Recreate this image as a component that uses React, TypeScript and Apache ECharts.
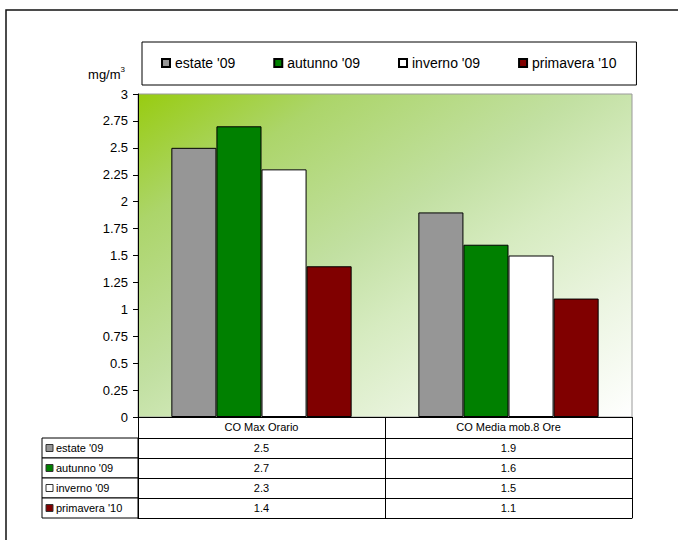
import React, { useEffect, useRef } from "react";
import * as echarts from "echarts";

// CO concentrations (mg/m³) per season
const categories = ["CO Max Orario", "CO Media mob.8 Ore"];
const seriesNames = ["estate '09", "autunno '09", "inverno '09", "primavera '10"];
const estate09 = [2.5, 1.9];
const autunno09 = [2.7, 1.6];
const inverno09 = [2.3, 1.5];
const primavera10 = [1.4, 1.1];
const seriesValues = [estate09, autunno09, inverno09, primavera10];

const seriesColors = ["#969696", "#008000", "#ffffff", "#800000"];

// layout
const FONT = "'Liberation Sans', Arial, sans-serif";
const GRID_LEFT = 138;
const GRID_TOP = 94;
const GRID_W = 494;
const GRID_H = 323;
const HEADER_H = 21;
const ROW_H = 20;
const TABLE_H = HEADER_H + ROW_H * seriesNames.length;
const TABLE_LEFT = 42;

export default function App() {
  const ref = useRef<HTMLDivElement>(null);

  useEffect(() => {
    if (!ref.current) return;
    const chart = echarts.init(ref.current, null, { renderer: "svg" });

    const rowAxes = [0, 1, 2, 3, 4].map((i) => ({
      type: "category",
      data: categories,
      gridIndex: 0,
      position: "bottom",
      offset: HEADER_H + i * ROW_H,
      axisLine: { show: true, lineStyle: { color: "#000", width: 1 } },
      axisTick: { show: false },
      splitLine: { show: false },
      axisLabel:
        i < seriesValues.length
          ? {
              show: true,
              margin: 4,
              fontSize: 11,
              fontFamily: FONT,
              color: "#000",
              formatter: (_v: string, idx: number) => String(seriesValues[i][idx]),
            }
          : { show: false },
    }));

    // legend-key column on the left of the data table
    const keyCells: any[] = [];
    seriesNames.forEach((name, i) => {
      const y = GRID_TOP + GRID_H + HEADER_H + i * ROW_H;
      keyCells.push({
        type: "rect",
        shape: { x: TABLE_LEFT, y, width: GRID_LEFT - TABLE_LEFT, height: ROW_H },
        style: { fill: "#fff", stroke: "#000", lineWidth: 1 },
        z: 10,
      });
      keyCells.push({
        type: "rect",
        shape: { x: TABLE_LEFT + 4, y: y + 6.5, width: 7, height: 7 },
        style: { fill: seriesColors[i], stroke: "#333", lineWidth: 1 },
        z: 11,
      });
      keyCells.push({
        type: "text",
        x: TABLE_LEFT + 14,
        y: y + ROW_H / 2,
        style: {
          text: name,
          fontSize: 11,
          fontFamily: FONT,
          fill: "#000",
          verticalAlign: "middle",
        },
        z: 11,
      });
    });

    chart.setOption({
      animation: false,
      backgroundColor: "#fff",
      textStyle: { fontFamily: FONT },
      legend: {
        data: seriesNames,
        left: 142,
        top: 42,
        padding: [14, 20, 15, 19],
        borderColor: "#000",
        borderWidth: 1,
        itemGap: 38,
        itemWidth: 8,
        itemHeight: 8,
        icon: "rect",
        textStyle: { fontSize: 14, color: "#000", fontFamily: FONT },
      },
      grid: {
        left: GRID_LEFT,
        top: GRID_TOP,
        width: GRID_W,
        height: GRID_H,
        show: true,
        borderColor: "#9a9a9a",
        borderWidth: 1,
        backgroundColor: new echarts.graphic.LinearGradient(0, 0, 1, 1, [
          { offset: 0, color: "#98cc10" },
          { offset: 0.2, color: "#acd56a" },
          { offset: 0.45, color: "#c2e0a2" },
          { offset: 0.6, color: "#d6ebc0" },
          { offset: 0.8, color: "#ecf5e2" },
          { offset: 1, color: "#ffffff" },
        ]),
      },
      xAxis: [
        {
          type: "category",
          data: categories,
          gridIndex: 0,
          position: "bottom",
          axisLine: { show: true, lineStyle: { color: "#000", width: 1 } },
          axisTick: { show: true, length: TABLE_H, lineStyle: { color: "#000" } },
          splitLine: { show: false },
          axisLabel: { margin: 4, fontSize: 11, fontFamily: FONT, color: "#000" },
        },
        ...rowAxes,
      ],
      yAxis: {
        type: "value",
        min: 0,
        max: 3,
        interval: 0.25,
        axisLine: { show: true, lineStyle: { color: "#000", width: 1 } },
        axisTick: { show: true, length: 5, lineStyle: { color: "#000" } },
        splitLine: { show: false },
        axisLabel: { margin: 10, fontSize: 13, fontFamily: FONT, color: "#000" },
      },
      series: seriesNames.map((name, i) => ({
        name,
        type: "bar",
        xAxisIndex: 0,
        data: seriesValues[i],
        barGap: "0%",
        barCategoryGap: "27%",
        itemStyle: { color: seriesColors[i], borderColor: "#000", borderWidth: 1 },
      })),
      graphic: [
        {
          type: "rect",
          shape: { x: 6, y: 10, width: 800, height: 700 },
          style: { fill: "none", stroke: "#111", lineWidth: 1.5 },
          z: 0,
          silent: true,
        },
        {
          type: "text",
          x: 125,
          y: 74,
          style: {
            text: "mg/m{sup|3}",
            fontSize: 13,
            fontFamily: FONT,
            fill: "#000",
            align: "right",
            verticalAlign: "middle",
            rich: { sup: { fontSize: 8, fontFamily: FONT, fill: "#000", verticalAlign: "top", padding: [0, 0, 9, 0] } },
          },
        },
        ...keyCells,
      ],
    });

    return () => chart.dispose();
  }, []);

  return (
    <div
      ref={ref}
      style={{ position: "fixed", left: 0, top: 0, width: 678, height: 540 }}
    />
  );
}
